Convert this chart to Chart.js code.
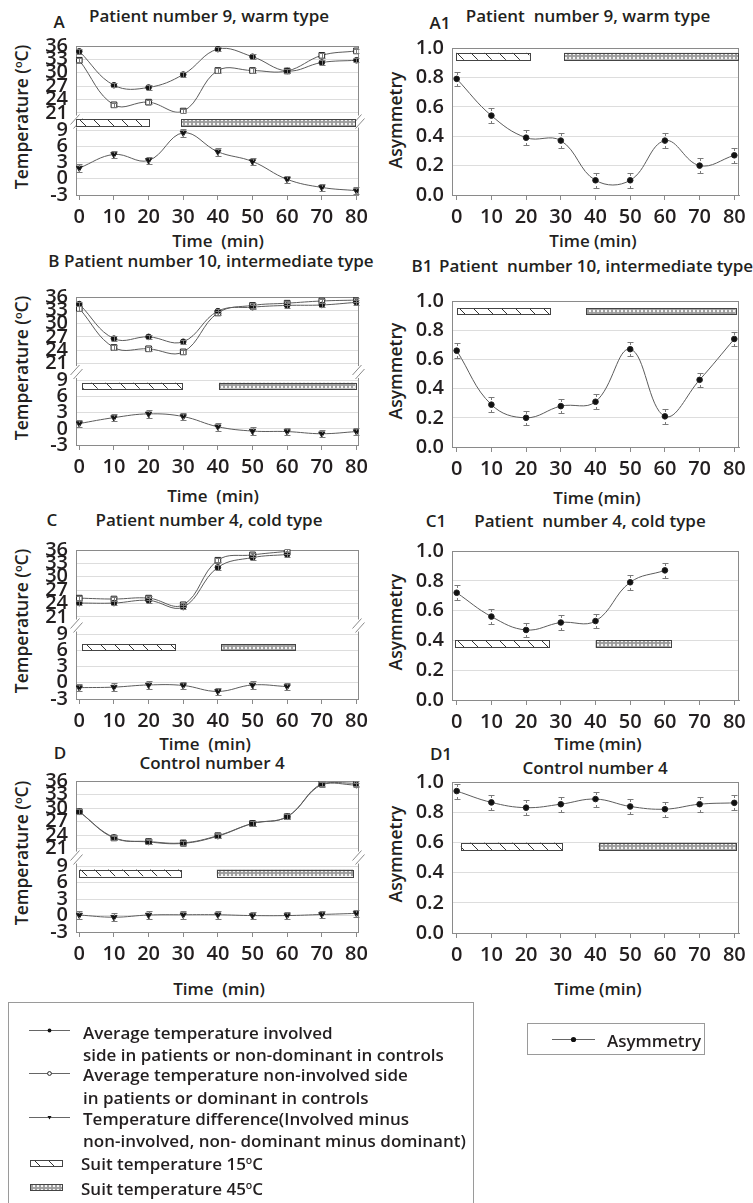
<!DOCTYPE html>
<html>
<head>
<meta charset="utf-8">
<title>Skin temperature and asymmetry during the suit test</title>
<script src="https://cdn.jsdelivr.net/npm/chart.js@4.4.1/dist/chart.umd.min.js"></script>
<style>
  html, body { margin: 0; background: #fff; }
  #page { position: relative; width: 753px; height: 1203px; overflow: hidden;
          font-family: 'Open Sans', sans-serif; font-weight: 600; color: #231f20; }
  #page canvas { position: absolute; }
  .lbl { position: absolute; white-space: pre; font-size: 17px; line-height: 1; transform: translate(-50%, -50%); }
  .ytl { position: absolute; white-space: pre; font-size: 17.5px; line-height: 1; transform: translate(-50%, -50%) rotate(-90deg); }
  .leg { position: absolute; white-space: pre; font-size: 17px; line-height: 1; transform: translateY(-50%); }
  sup { font-size: 0.62em; vertical-align: 0.55em; line-height: 0; }
</style>
</head>
<body>
<div id="page">
  <!-- panel headings -->
  <div class="lbl" style="left:59px;top:21px">A</div>
  <div class="lbl" style="left:209px;top:15px">Patient number 9, warm type</div>
  <div class="lbl" style="left:440px;top:22px">A1</div>
  <div class="lbl" style="left:588px;top:15px">Patient  number 9, warm type</div>
  <div class="lbl" style="left:218px;top:240px">Time  (min)</div>
  <div class="lbl" style="left:593px;top:240px">Time (min)</div>

  <div class="lbl" style="left:211px;top:260px">B Patient number 10, intermediate type</div>
  <div class="lbl" style="left:422px;top:265px">B1</div>
  <div class="lbl" style="left:596px;top:265px">Patient  number 10, intermediate type</div>
  <div class="lbl" style="left:213px;top:495px">Time  (min)</div>
  <div class="lbl" style="left:597px;top:497px">Time (min)</div>

  <div class="lbl" style="left:52px;top:519px">C</div>
  <div class="lbl" style="left:209px;top:519px">Patient number 4, cold type</div>
  <div class="lbl" style="left:436px;top:520px">C1</div>
  <div class="lbl" style="left:590px;top:520px">Patient  number 4, cold type</div>
  <div class="lbl" style="left:205px;top:743px">Time  (min)</div>
  <div class="lbl" style="left:598px;top:743px">Time (min)</div>

  <div class="lbl" style="left:60px;top:752px">D</div>
  <div class="lbl" style="left:212px;top:762px">Control number 4</div>
  <div class="lbl" style="left:441px;top:753px">D1</div>
  <div class="lbl" style="left:595px;top:767px">Control number 4</div>
  <div class="lbl" style="left:219px;top:988px">Time  (min)</div>
  <div class="lbl" style="left:598px;top:988px">Time (min)</div>

  <!-- axis titles -->
  <div class="ytl" style="left:22px;top:117px">Temperature (<sup>o</sup>C)</div>
  <div class="ytl" style="left:22px;top:368px">Temperature (<sup>o</sup>C)</div>
  <div class="ytl" style="left:22px;top:621px">Temperature (<sup>o</sup>C)</div>
  <div class="ytl" style="left:22px;top:853px">Temperature (<sup>o</sup>C)</div>
  <div class="ytl" style="left:396px;top:120px">Asymmetry</div>
  <div class="ytl" style="left:396px;top:371px">Asymmetry</div>
  <div class="ytl" style="left:396px;top:622px">Asymmetry</div>
  <div class="ytl" style="left:396px;top:854px">Asymmetry</div>

  <canvas id="legendMarks" width="753" height="203" style="left:0;top:1000px"></canvas>
  <div class="leg" style="left:83px;top:1032px">Average temperature involved</div>
  <div class="leg" style="left:83px;top:1054px">side in patients or non-dominant in controls</div>
  <div class="leg" style="left:83px;top:1074px">Average temperature non-involved side</div>
  <div class="leg" style="left:83px;top:1097px">in patients or dominant in controls</div>
  <div class="leg" style="left:83px;top:1118px">Temperature difference(Involved minus</div>
  <div class="leg" style="left:83px;top:1140px">non-involved, non- dominant minus dominant)</div>
  <div class="leg" style="left:81px;top:1163px">Suit temperature 15<sup>o</sup>C</div>
  <div class="leg" style="left:81px;top:1188px">Suit temperature 45<sup>o</sup>C</div>
  <div class="leg" style="left:607px;top:1040px">Asymmetry</div>
</div>

<script>
const TIME = [0, 10, 20, 30, 40, 50, 60, 70, 80];
const UPPER_TICKS = [21, 24, 27, 30, 33, 36];
const LOWER_TICKS = [-3, 0, 3, 6, 9];
const ASYM_TICKS = [0, 0.2, 0.4, 0.6, 0.8, 1.0];

// half-width of the error bars
const TEMP_ERR = 0.5;
const DIFF_ERR = 0.7;
const ASYM_ERR = 0.05;

// Patient 9, warm type
const A_INVOLVED = [34.8, 27.2, 26.7, 29.6, 35.3, 33.6, 30.4, 32.3, 32.8];
const A_NONINVOLVED = [32.8, 22.8, 23.4, 21.4, 30.5, 30.5, 30.4, 33.9, 34.9];
const A_DIFF = [2.0, 4.5, 3.4, 8.5, 5.0, 3.2, -0.1, -1.6, -2.2];
const A_ASYM = [0.79, 0.54, 0.39, 0.37, 0.10, 0.10, 0.37, 0.20, 0.27];

// Patient 10, intermediate type
const B_INVOLVED = [34.4, 26.6, 27.0, 25.9, 32.8, 33.7, 34.1, 34.2, 34.8];
const B_NONINVOLVED = [33.4, 24.6, 24.3, 23.6, 32.4, 34.1, 34.6, 35.1, 35.3];
const B_DIFF = [1.0, 2.1, 2.8, 2.3, 0.4, -0.4, -0.5, -0.9, -0.5];
const B_ASYM = [0.66, 0.29, 0.20, 0.28, 0.31, 0.67, 0.21, 0.46, 0.74];

// Patient 4, cold type (stopped at 60 min)
const C_INVOLVED = [24.1, 24.1, 24.7, 23.2, 32.1, 34.3, 35.0];
const C_NONINVOLVED = [25.2, 25.0, 25.2, 23.7, 33.7, 34.9, 35.7];
const C_DIFF = [-0.9, -0.8, -0.4, -0.5, -1.6, -0.4, -0.7];
const C_ASYM = [0.72, 0.56, 0.47, 0.52, 0.53, 0.79, 0.87];

// Control 4
const D_INVOLVED = [29.2, 23.5, 22.5, 22.2, 23.8, 26.6, 28.1, 35.2, 35.1];
const D_NONINVOLVED = [29.2, 23.4, 22.6, 22.3, 23.9, 26.6, 28.1, 35.4, 35.5];
const D_DIFF = [0.1, -0.3, 0.1, 0.15, 0.15, 0.0, 0.0, 0.2, 0.4];
const D_ASYM = [0.94, 0.865, 0.83, 0.853, 0.887, 0.838, 0.82, 0.853, 0.862];

// Suit periods: [from min, to min, bottom, top] in units of the axis the bar sits on
const A_COLD = [-0.9, 20.1, 9.7, 11.0],   A_WARM = [29.5, 79.7, 9.7, 11.0];
const A1_COLD = [-0.3, 20.9, 0.92, 0.967], A1_WARM = [31, 81.2, 0.92, 0.967];
const B_COLD = [0.8, 29.8, 7.5, 8.6],      B_WARM = [40.3, 79.7, 7.5, 8.6];
const B1_COLD = [0.2, 27, 0.906, 0.95],    B1_WARM = [37.3, 80.4, 0.906, 0.95];
const C_COLD = [0.7, 27.6, 5.9, 7.1],      C_WARM = [41, 62.5, 5.9, 7.1];
const C1_COLD = [-0.5, 26.5, 0.35, 0.40],  C1_WARM = [40, 61.6, 0.35, 0.40];
const D_COLD = [0, 29.3, 7.2, 8.4],        D_WARM = [39.7, 79, 7.2, 8.4];
const D1_COLD = [1.2, 30.3, 0.55, 0.598],  D1_WARM = [40.9, 80.5, 0.55, 0.598];

const INK = '#231f20';
const LINE = '#5c5c5c';
const FRAME = '#8a8a8a';
const GRID = '#dddddd';
const TICK_FONT = { family: 'Open Sans', size: 20, weight: '600' };

const PAD_TOP = 14, PAD_RIGHT = 14, Y_AXIS_W = 76, X_AXIS_H = 36;

function hatchPattern(ctx) {
  const c = document.createElement('canvas');
  c.width = 14; c.height = 14;
  const g = c.getContext('2d');
  g.fillStyle = '#fff';
  g.fillRect(0, 0, 14, 14);
  g.strokeStyle = '#333';
  g.lineWidth = 1;
  g.beginPath(); g.moveTo(-1, -1); g.lineTo(15, 15); g.stroke();
  return ctx.createPattern(c, 'repeat');
}

function dotPattern(ctx) {
  const c = document.createElement('canvas');
  c.width = 4; c.height = 4;
  const g = c.getContext('2d');
  g.fillStyle = '#9c9c9c';
  g.fillRect(0, 0, 4, 4);
  g.fillStyle = '#f7f7f7';
  g.beginPath(); g.arc(2, 2, 1.2, 0, Math.PI * 2); g.fill();
  return ctx.createPattern(c, 'repeat');
}

function drawSuitBar(ctx, left, top, right, bottom, cold) {
  ctx.save();
  ctx.fillStyle = cold ? hatchPattern(ctx) : dotPattern(ctx);
  ctx.fillRect(left, top, right - left, bottom - top);
  ctx.strokeStyle = '#444';
  ctx.lineWidth = 1;
  ctx.strokeRect(Math.round(left) + 0.5, Math.round(top) + 0.5,
                 Math.round(right - left), Math.round(bottom - top));
  ctx.restore();
}

function breakMark(ctx, x, y) {
  ctx.save();
  ctx.fillStyle = '#fff';
  ctx.fillRect(x - 2, y - 6, 4, 12);
  ctx.strokeStyle = FRAME;
  ctx.lineWidth = 1;
  ctx.beginPath();
  ctx.moveTo(x - 6, y + 3); ctx.lineTo(x + 3, y - 7);
  ctx.moveTo(x - 3, y + 7); ctx.lineTo(x + 6, y - 3);
  ctx.stroke();
  ctx.restore();
}

// plot frame plus the "//" marks where the temperature axis is broken
const frame = {
  id: 'frame',
  beforeDatasetsDraw(chart) {
    const { ctx, chartArea: a } = chart;
    ctx.save();
    ctx.strokeStyle = FRAME;
    ctx.lineWidth = 1;
    ctx.strokeRect(Math.round(a.left) + 0.5, Math.round(a.top) + 0.5,
                   Math.round(a.right - a.left) - 1, Math.round(a.bottom - a.top));
    ctx.restore();
    const up = chart.scales.yU, low = chart.scales.yL;
    if (up && low) {
      const y = (up.bottom + low.getPixelForValue(9)) / 2;
      breakMark(ctx, Math.round(a.left) + 0.5, y);
      breakMark(ctx, Math.round(a.right) - 0.5, y);
    }
  }
};

function suitBars(bars, axisId) {
  return {
    id: 'suitBars',
    beforeDatasetsDraw(chart) {
      const x = chart.scales.x, y = chart.scales[axisId];
      bars.forEach(([span, cold]) => {
        const [t0, t1, lo, hi] = span;
        drawSuitBar(chart.ctx, x.getPixelForValue(t0), y.getPixelForValue(hi),
                    x.getPixelForValue(t1), y.getPixelForValue(lo), cold);
      });
    }
  };
}

const errorBars = {
  id: 'errorBars',
  afterDatasetsDraw(chart) {
    const ctx = chart.ctx;
    ctx.save();
    ctx.strokeStyle = '#7a7a7a';
    ctx.lineWidth = 1;
    chart.data.datasets.forEach((ds, i) => {
      const meta = chart.getDatasetMeta(i);
      const y = chart.scales[meta.yAxisID];
      meta.data.forEach((pt, j) => {
        const v = ds.data[j].y;
        const top = Math.round(y.getPixelForValue(v + ds.errorBar)) + 0.5;
        const bot = Math.round(y.getPixelForValue(v - ds.errorBar)) + 0.5;
        const px = Math.round(pt.x) + 0.5;
        ctx.beginPath();
        ctx.moveTo(px, top); ctx.lineTo(px, top + 2.5);
        ctx.moveTo(px, bot); ctx.lineTo(px, bot - 2.5);
        ctx.moveTo(px - 3, top); ctx.lineTo(px + 3, top);
        ctx.moveTo(px - 3, bot); ctx.lineTo(px + 3, bot);
        ctx.stroke();
      });
    });
    ctx.restore();
  }
};

function series(values, axisId, marker, err) {
  return {
    data: values.map((v, i) => ({ x: TIME[i], y: v })),
    yAxisID: axisId,
    errorBar: err,
    borderColor: LINE,
    borderWidth: 1,
    tension: 0.4,
    pointStyle: marker,
    pointRadius: marker === 'rect' ? 4 : (marker === 'triangle' ? 3.6 : 2.8),
    pointRotation: marker === 'triangle' ? 180 : 0,
    pointBackgroundColor: marker === 'rect' ? '#fff' : '#111',
    pointBorderColor: '#222',
    pointBorderWidth: 1
  };
}

function timeAxis(min, max) {
  return {
    type: 'linear', position: 'bottom', min, max,
    afterBuildTicks: s => { s.ticks = TIME.map(v => ({ value: v })); },
    afterFit: s => { s.height = X_AXIS_H; },
    grid: { drawOnChartArea: false, drawTicks: true, tickLength: 5, color: FRAME },
    border: { color: FRAME },
    ticks: { font: TICK_FONT, color: INK, padding: 5, maxRotation: 0, autoSkip: false }
  };
}

function valueAxis(min, max, ticks, extra) {
  return Object.assign({
    type: 'linear', position: 'left', min, max,
    afterBuildTicks: s => { s.ticks = ticks.map(v => ({ value: v })); },
    afterFit: s => { s.width = Y_AXIS_W; },
    grid: { color: GRID, drawTicks: false },
    border: { color: FRAME },
    ticks: { font: TICK_FONT, color: INK, padding: 8, autoSkip: false }
  }, extra);
}

function makeCanvas(left, width, top, bottom) {
  const c = document.createElement('canvas');
  const h = (bottom - top) + PAD_TOP + X_AXIS_H;
  c.width = width; c.height = h;
  c.style.left = left + 'px';
  c.style.top = (top - PAD_TOP) + 'px';
  c.style.width = width + 'px';
  c.style.height = h + 'px';
  document.getElementById('page').appendChild(c);
  return c;
}

const baseOptions = {
  responsive: false,
  animation: false,
  events: [],
  layout: { padding: { top: PAD_TOP, right: PAD_RIGHT, left: 0, bottom: 0 } },
  plugins: { legend: { display: false }, tooltip: { enabled: false } }
};

// temperature panels: broken axis, 21-36 on top and -3..9 below
function temperaturePanel(p) {
  const canvas = makeCanvas(0, 359 + PAD_RIGHT, p.top, p.bottom);
  new Chart(canvas, {
    type: 'line',
    data: { datasets: [
      series(p.inv, 'yU', 'circle', TEMP_ERR),
      series(p.non, 'yU', 'rect', TEMP_ERR),
      series(p.diff, 'yL', 'triangle', DIFF_ERR)
    ] },
    options: Object.assign({}, baseOptions, {
      scales: {
        x: timeAxis(-0.95, 80.6),
        yL: valueAxis(-3, 12.2, LOWER_TICKS, { stack: 'temp', stackWeight: 86, weight: 0 }),
        yU: valueAxis(21, 36, UPPER_TICKS, { stack: 'temp', stackWeight: 70, weight: 1 })
      }
    }),
    plugins: [frame, suitBars([[p.cold, true], [p.warm, false]], 'yL'), errorBars]
  });
}

function asymmetryPanel(p) {
  const canvas = makeCanvas(376, 739 - 376 + PAD_RIGHT, p.top, p.bottom);
  new Chart(canvas, {
    type: 'line',
    data: { datasets: [series(p.asym, 'y', 'circle', ASYM_ERR)] },
    options: Object.assign({}, baseOptions, {
      scales: {
        x: timeAxis(-1.35, 81.35),
        y: valueAxis(0, 1, ASYM_TICKS, { ticks: { font: TICK_FONT, color: INK, padding: 8, autoSkip: false,
                                                   callback: v => v.toFixed(1) } })
      }
    }),
    plugins: [frame, suitBars([[p.cold, true], [p.warm, false]], 'y'), errorBars]
  });
}

[
  { top: 40, bottom: 195, inv: A_INVOLVED, non: A_NONINVOLVED, diff: A_DIFF, cold: A_COLD, warm: A_WARM },
  { top: 291, bottom: 445, inv: B_INVOLVED, non: B_NONINVOLVED, diff: B_DIFF, cold: B_COLD, warm: B_WARM },
  { top: 544, bottom: 699, inv: C_INVOLVED, non: C_NONINVOLVED, diff: C_DIFF, cold: C_COLD, warm: C_WARM },
  { top: 775, bottom: 932, inv: D_INVOLVED, non: D_NONINVOLVED, diff: D_DIFF, cold: D_COLD, warm: D_WARM }
].forEach(temperaturePanel);

[
  { top: 42, bottom: 195, asym: A_ASYM, cold: A1_COLD, warm: A1_WARM },
  { top: 295, bottom: 447, asym: B_ASYM, cold: B1_COLD, warm: B1_WARM },
  { top: 545, bottom: 700, asym: C_ASYM, cold: C1_COLD, warm: C1_WARM },
  { top: 776, bottom: 933, asym: D_ASYM, cold: D1_COLD, warm: D1_WARM }
].forEach(asymmetryPanel);

// legend boxes and their sample marks (canvas starts at y = 1000)
(function drawLegend() {
  const ctx = document.getElementById('legendMarks').getContext('2d');
  ctx.strokeStyle = '#9a9a9a';
  ctx.lineWidth = 1;
  ctx.strokeRect(8.5, 2.5, 465, 240);
  ctx.strokeRect(527.5, 23.5, 177, 31);

  function sample(x0, x1, y, marker) {
    ctx.save();
    ctx.strokeStyle = '#666';
    ctx.beginPath(); ctx.moveTo(x0, y + 0.5); ctx.lineTo(x1, y + 0.5); ctx.stroke();
    const cx = (x0 + x1) / 2;
    ctx.strokeStyle = '#222';
    ctx.fillStyle = marker === 'open' ? '#fff' : '#111';
    ctx.beginPath();
    if (marker === 'tri') {
      ctx.moveTo(cx - 2, y - 1); ctx.lineTo(cx + 2, y - 1); ctx.lineTo(cx, y + 2.5); ctx.closePath();
    } else {
      ctx.arc(cx, y + 0.5, marker === 'big' ? 2.6 : 1.9, 0, Math.PI * 2);
    }
    ctx.fill();
    if (marker === 'open') ctx.stroke();
    ctx.restore();
  }
  sample(29, 70, 30, 'dot');
  sample(29, 70, 73, 'open');
  sample(29, 70, 117, 'tri');
  sample(552, 595, 39, 'big');
  drawSuitBar(ctx, 30, 160, 62, 166, true);
  drawSuitBar(ctx, 30, 184, 62, 190, false);
})();
</script>
</body>
</html>
